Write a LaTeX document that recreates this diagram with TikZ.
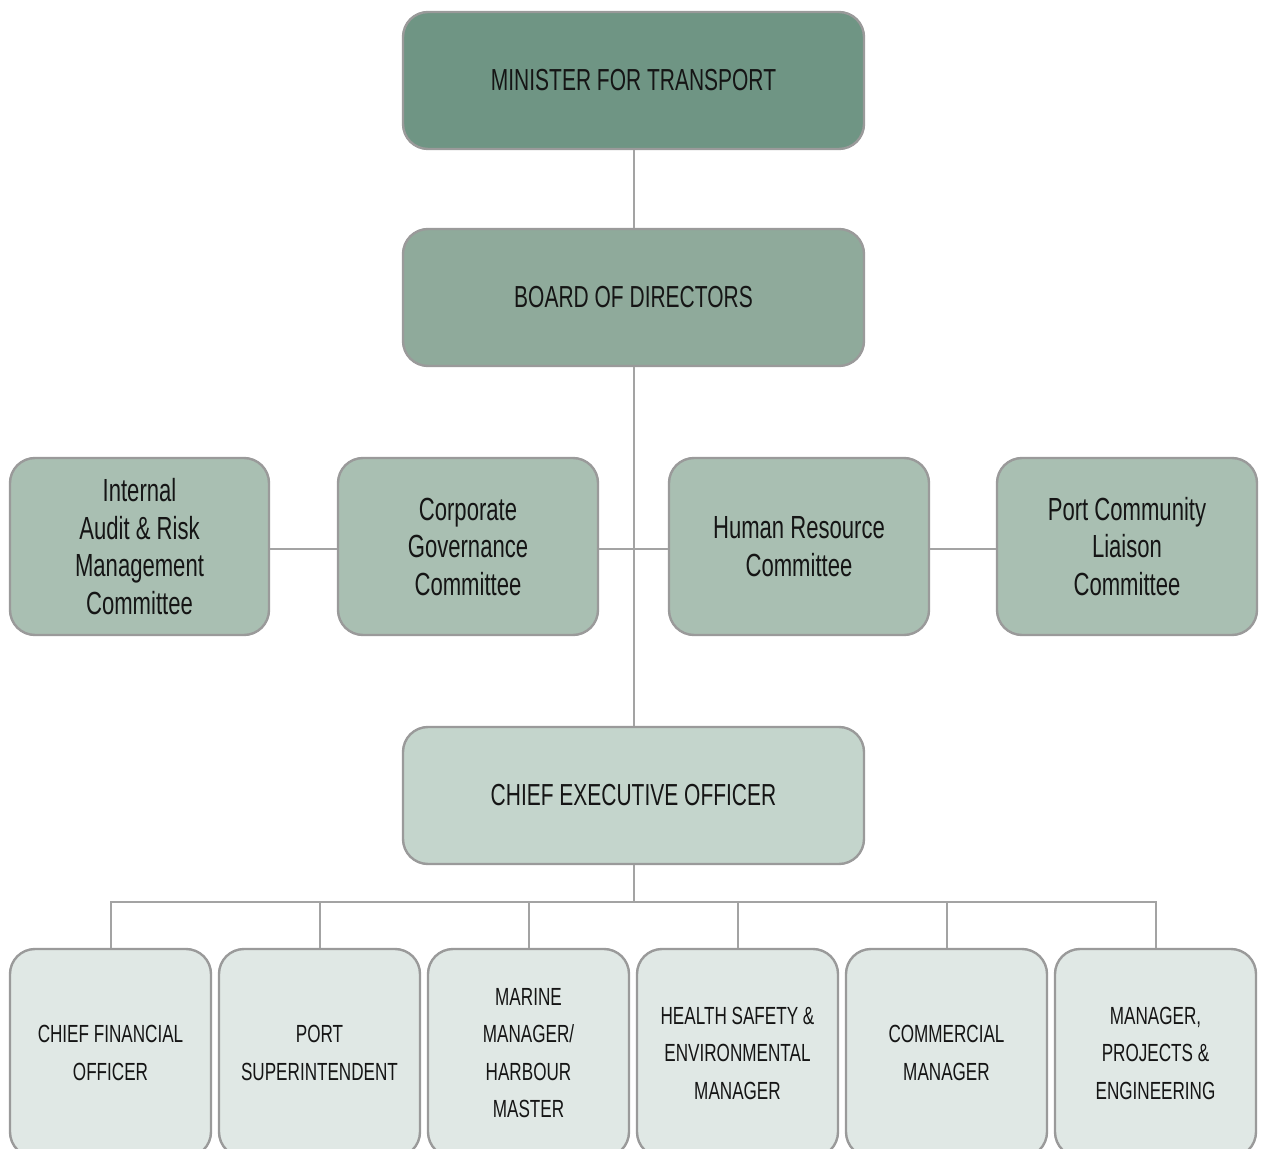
\documentclass[tikz,border=0pt]{standalone}
\usepackage{fontspec}
\setmainfont{Liberation Sans}[FakeStretch=0.69]
\definecolor{cMin}{HTML}{6F9584}
\definecolor{cBoard}{HTML}{8FAA9B}
\definecolor{cComm}{HTML}{A9BFB2}
\definecolor{cCeo}{HTML}{C4D5CC}
\definecolor{cLow}{HTML}{E0E8E5}
\definecolor{cEdge}{HTML}{9A9A9A}
\definecolor{cLine}{HTML}{A3A3A3}
\definecolor{cText}{HTML}{151515}
\tikzset{
  orgbox/.style={draw=cEdge, line width=1.2pt, rounded corners=12.5pt, align=center,
    text=cText, inner sep=0pt},
  topbox/.style={orgbox, minimum width=230.5pt, minimum height=68.5pt,
    font=\fontsize{15.2}{18.75}\selectfont},
  commbox/.style={orgbox, fill=cComm, minimum width=130pt, minimum height=88.5pt,
    font=\fontsize{16}{18.75}\selectfont},
  lowbox/.style={orgbox, fill=cLow, minimum width=100.5pt, minimum height=104pt,
    font=\fontsize{12.4}{18.75}\selectfont},
  link/.style={draw=cLine, line width=1pt}
}
\begin{document}
\begin{tikzpicture}[x=0.5pt,y=-0.5pt]
\useasboundingbox (0,0) rectangle (1264,1149);
\clip (0,0) rectangle (1264,1149);
\node[topbox, fill=cMin] (minister) at (633.5,80.5) {MINISTER FOR TRANSPORT};
\node[topbox, fill=cBoard] (board) at (633.5,297.5) {BOARD OF DIRECTORS};
\node[commbox, minimum width=129.5pt] (iarm) at (139.5,546.5) {Internal\\Audit \& Risk\\Management\\Committee};
\node[commbox] (cgc) at (468,546.5) {Corporate\\Governance\\Committee};
\node[commbox] (hrc) at (799,546.5) {Human Resource\\Committee};
\node[commbox] (pclc) at (1127,546.5) {Port Community\\Liaison\\Committee};
\node[topbox, fill=cCeo] (ceo) at (633.5,795.5) {CHIEF EXECUTIVE OFFICER};
\node[lowbox] (b1) at (110.5,1053) {CHIEF FINANCIAL\\OFFICER};
\node[lowbox] (b2) at (319.5,1053) {PORT\\SUPERINTENDENT};
\node[lowbox] (b3) at (528.5,1053) {MARINE\\MANAGER/\\HARBOUR\\MASTER};
\node[lowbox] (b4) at (737.5,1053) {HEALTH SAFETY \&\\ENVIRONMENTAL\\MANAGER};
\node[lowbox] (b5) at (946.5,1053) {COMMERCIAL\\MANAGER};
\node[lowbox] (b6) at (1155.5,1053) {MANAGER,\\PROJECTS \&\\ENGINEERING};
\coordinate (bus) at (632,902);
\coordinate (hub) at (632,549);
\path[link] (minister.south) -- (board.north);
\path[link] (board.south) -- (ceo.north);
\path[link] (iarm.east |- hub) -- (cgc.west |- hub);
\path[link] (cgc.east |- hub) -- (hrc.west |- hub);
\path[link] (hrc.east |- hub) -- (pclc.west |- hub);
\path[link] (ceo.south) -- (ceo.south |- bus);
\path[link] (b1.north) -- (b1.north |- bus) -- (b6.north |- bus) -- (b6.north);
\foreach \b in {b2,b3,b4,b5} { \path[link] (\b.north) -- (\b.north |- bus); }
\end{tikzpicture}
\end{document}
